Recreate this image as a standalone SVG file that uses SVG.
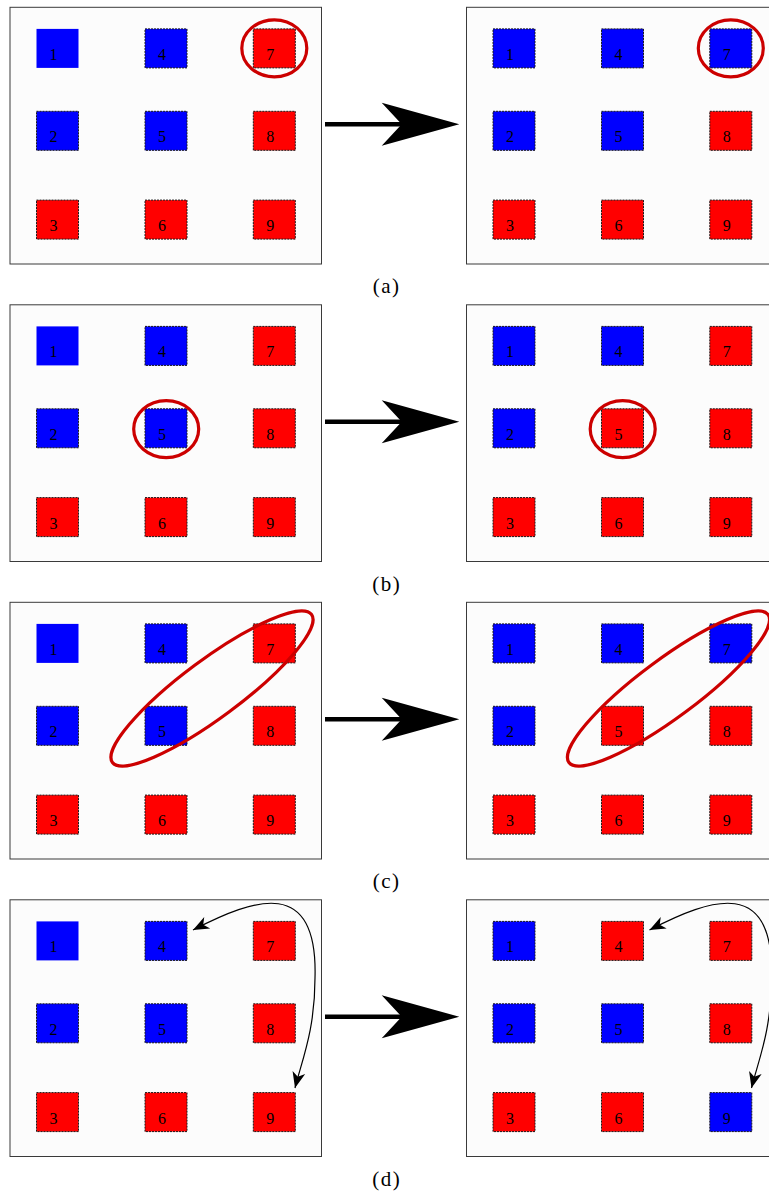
<svg xmlns="http://www.w3.org/2000/svg" xmlns:xlink="http://www.w3.org/1999/xlink" width="769" height="1196" viewBox="0 0 769 1196">
<style>
.frame{fill:#fcfcfc;stroke:#3a3a3a;stroke-width:1}
.b{fill:#0000ff}
.r{fill:#ff0000}
.sq{stroke:#1a1a1a;stroke-width:1;stroke-dasharray:2 1}
.lbl{font-family:"Liberation Serif","DejaVu Serif",serif;font-size:16px;text-anchor:middle;fill:#000}
.cap{font-family:"Liberation Serif","DejaVu Serif",serif;font-size:21px;text-anchor:middle;fill:#000;letter-spacing:1.5px}
.ring{fill:none;stroke:#cc0000;stroke-width:3.2}
.curve{fill:none;stroke:#000;stroke-width:1.2}
</style>
<defs>
<marker id="tip" markerUnits="userSpaceOnUse" viewBox="-17 -8 18 16" refX="0" refY="0" markerWidth="18" markerHeight="16" orient="auto-start-reverse">
<path d="M0,0 L-16,-6.5 L-11.5,0 L-16,6.5 Z" fill="#000"/>
</marker>
<g id="bigArrow">
<line x1="325" y1="0" x2="405" y2="0" stroke="#000" stroke-width="4.5"/>
<polygon points="459.3,0 381.7,-21.5 401.7,0 381.7,21.5" fill="#000"/>
</g>
</defs>
<rect width="769" height="1196" fill="#fff"/>

<!-- Panel (a) left -->
<g transform="translate(10,7.3)">
<rect class="frame" x="0" y="0" width="311.5" height="256.7"/>
<g id="aL1"><rect class="b" x="26.5" y="21.6" width="42" height="39"/><text class="lbl" x="43.5" y="52.6">1</text></g>
<g id="aL2"><rect class="b sq" x="26.5" y="104" width="42" height="39"/><text class="lbl" x="43.5" y="135">2</text></g>
<g id="aL3"><rect class="r sq" x="26.5" y="192.8" width="42" height="39"/><text class="lbl" x="43.5" y="223.8">3</text></g>
<g id="aL4"><rect class="b sq" x="135" y="21.6" width="42" height="39"/><text class="lbl" x="152" y="52.6">4</text></g>
<g id="aL5"><rect class="b sq" x="135" y="104" width="42" height="39"/><text class="lbl" x="152" y="135">5</text></g>
<g id="aL6"><rect class="r sq" x="135" y="192.8" width="42" height="39"/><text class="lbl" x="152" y="223.8">6</text></g>
<g id="aL7"><rect class="r sq" x="243.3" y="21.6" width="42" height="39"/><text class="lbl" x="260.3" y="52.6">7</text></g>
<g id="aL8"><rect class="r sq" x="243.3" y="104" width="42" height="39"/><text class="lbl" x="260.3" y="135">8</text></g>
<g id="aL9"><rect class="r sq" x="243.3" y="192.8" width="42" height="39"/><text class="lbl" x="260.3" y="223.8">9</text></g>
<ellipse class="ring" cx="264.3" cy="41" rx="32.5" ry="28.5"/>
</g>
<!-- Panel (a) right -->
<g transform="translate(466.5,7.3)">
<rect class="frame" x="0" y="0" width="311.5" height="256.7"/>
<g id="aR1"><rect class="b sq" x="26.5" y="21.6" width="42" height="39"/><text class="lbl" x="43.5" y="52.6">1</text></g>
<g id="aR2"><rect class="b sq" x="26.5" y="104" width="42" height="39"/><text class="lbl" x="43.5" y="135">2</text></g>
<g id="aR3"><rect class="r sq" x="26.5" y="192.8" width="42" height="39"/><text class="lbl" x="43.5" y="223.8">3</text></g>
<g id="aR4"><rect class="b sq" x="135" y="21.6" width="42" height="39"/><text class="lbl" x="152" y="52.6">4</text></g>
<g id="aR5"><rect class="b sq" x="135" y="104" width="42" height="39"/><text class="lbl" x="152" y="135">5</text></g>
<g id="aR6"><rect class="r sq" x="135" y="192.8" width="42" height="39"/><text class="lbl" x="152" y="223.8">6</text></g>
<g id="aR7"><rect class="b sq" x="243.3" y="21.6" width="42" height="39"/><text class="lbl" x="260.3" y="52.6">7</text></g>
<g id="aR8"><rect class="r sq" x="243.3" y="104" width="42" height="39"/><text class="lbl" x="260.3" y="135">8</text></g>
<g id="aR9"><rect class="r sq" x="243.3" y="192.8" width="42" height="39"/><text class="lbl" x="260.3" y="223.8">9</text></g>
<ellipse class="ring" cx="264.3" cy="41" rx="32.5" ry="28.5"/>
</g>
<text class="cap" x="386.7" y="293">(a)</text>

<!-- Panel (b) left -->
<g transform="translate(10,304.8)">
<rect class="frame" x="0" y="0" width="311.5" height="256.7"/>
<g id="bL1"><rect class="b" x="26.5" y="21.6" width="42" height="39"/><text class="lbl" x="43.5" y="52.6">1</text></g>
<g id="bL2"><rect class="b sq" x="26.5" y="104" width="42" height="39"/><text class="lbl" x="43.5" y="135">2</text></g>
<g id="bL3"><rect class="r sq" x="26.5" y="192.8" width="42" height="39"/><text class="lbl" x="43.5" y="223.8">3</text></g>
<g id="bL4"><rect class="b sq" x="135" y="21.6" width="42" height="39"/><text class="lbl" x="152" y="52.6">4</text></g>
<g id="bL5"><rect class="b sq" x="135" y="104" width="42" height="39"/><text class="lbl" x="152" y="135">5</text></g>
<g id="bL6"><rect class="r sq" x="135" y="192.8" width="42" height="39"/><text class="lbl" x="152" y="223.8">6</text></g>
<g id="bL7"><rect class="r sq" x="243.3" y="21.6" width="42" height="39"/><text class="lbl" x="260.3" y="52.6">7</text></g>
<g id="bL8"><rect class="r sq" x="243.3" y="104" width="42" height="39"/><text class="lbl" x="260.3" y="135">8</text></g>
<g id="bL9"><rect class="r sq" x="243.3" y="192.8" width="42" height="39"/><text class="lbl" x="260.3" y="223.8">9</text></g>
<ellipse class="ring" cx="156.2" cy="124.3" rx="32.5" ry="28.5"/>
</g>
<!-- Panel (b) right -->
<g transform="translate(466.5,304.8)">
<rect class="frame" x="0" y="0" width="311.5" height="256.7"/>
<g id="bR1"><rect class="b sq" x="26.5" y="21.6" width="42" height="39"/><text class="lbl" x="43.5" y="52.6">1</text></g>
<g id="bR2"><rect class="b sq" x="26.5" y="104" width="42" height="39"/><text class="lbl" x="43.5" y="135">2</text></g>
<g id="bR3"><rect class="r sq" x="26.5" y="192.8" width="42" height="39"/><text class="lbl" x="43.5" y="223.8">3</text></g>
<g id="bR4"><rect class="b sq" x="135" y="21.6" width="42" height="39"/><text class="lbl" x="152" y="52.6">4</text></g>
<g id="bR5"><rect class="r sq" x="135" y="104" width="42" height="39"/><text class="lbl" x="152" y="135">5</text></g>
<g id="bR6"><rect class="r sq" x="135" y="192.8" width="42" height="39"/><text class="lbl" x="152" y="223.8">6</text></g>
<g id="bR7"><rect class="r sq" x="243.3" y="21.6" width="42" height="39"/><text class="lbl" x="260.3" y="52.6">7</text></g>
<g id="bR8"><rect class="r sq" x="243.3" y="104" width="42" height="39"/><text class="lbl" x="260.3" y="135">8</text></g>
<g id="bR9"><rect class="r sq" x="243.3" y="192.8" width="42" height="39"/><text class="lbl" x="260.3" y="223.8">9</text></g>
<ellipse class="ring" cx="156.2" cy="124.3" rx="32.5" ry="28.5"/>
</g>
<text class="cap" x="386.7" y="590.5">(b)</text>

<!-- Panel (c) left -->
<g transform="translate(10,602.3)">
<rect class="frame" x="0" y="0" width="311.5" height="256.7"/>
<g id="cL1"><rect class="b" x="26.5" y="21.6" width="42" height="39"/><text class="lbl" x="43.5" y="52.6">1</text></g>
<g id="cL2"><rect class="b sq" x="26.5" y="104" width="42" height="39"/><text class="lbl" x="43.5" y="135">2</text></g>
<g id="cL3"><rect class="r sq" x="26.5" y="192.8" width="42" height="39"/><text class="lbl" x="43.5" y="223.8">3</text></g>
<g id="cL4"><rect class="b sq" x="135" y="21.6" width="42" height="39"/><text class="lbl" x="152" y="52.6">4</text></g>
<g id="cL5"><rect class="b sq" x="135" y="104" width="42" height="39"/><text class="lbl" x="152" y="135">5</text></g>
<g id="cL6"><rect class="r sq" x="135" y="192.8" width="42" height="39"/><text class="lbl" x="152" y="223.8">6</text></g>
<g id="cL7"><rect class="r sq" x="243.3" y="21.6" width="42" height="39"/><text class="lbl" x="260.3" y="52.6">7</text></g>
<g id="cL8"><rect class="r sq" x="243.3" y="104" width="42" height="39"/><text class="lbl" x="260.3" y="135">8</text></g>
<g id="cL9"><rect class="r sq" x="243.3" y="192.8" width="42" height="39"/><text class="lbl" x="260.3" y="223.8">9</text></g>
<ellipse class="ring" cx="0" cy="0" rx="124" ry="29" transform="translate(202,86.2) rotate(-36.6)"/>
</g>
<!-- Panel (c) right -->
<g transform="translate(466.5,602.3)">
<rect class="frame" x="0" y="0" width="311.5" height="256.7"/>
<g id="cR1"><rect class="b sq" x="26.5" y="21.6" width="42" height="39"/><text class="lbl" x="43.5" y="52.6">1</text></g>
<g id="cR2"><rect class="b sq" x="26.5" y="104" width="42" height="39"/><text class="lbl" x="43.5" y="135">2</text></g>
<g id="cR3"><rect class="r sq" x="26.5" y="192.8" width="42" height="39"/><text class="lbl" x="43.5" y="223.8">3</text></g>
<g id="cR4"><rect class="b sq" x="135" y="21.6" width="42" height="39"/><text class="lbl" x="152" y="52.6">4</text></g>
<g id="cR5"><rect class="r sq" x="135" y="104" width="42" height="39"/><text class="lbl" x="152" y="135">5</text></g>
<g id="cR6"><rect class="r sq" x="135" y="192.8" width="42" height="39"/><text class="lbl" x="152" y="223.8">6</text></g>
<g id="cR7"><rect class="b sq" x="243.3" y="21.6" width="42" height="39"/><text class="lbl" x="260.3" y="52.6">7</text></g>
<g id="cR8"><rect class="r sq" x="243.3" y="104" width="42" height="39"/><text class="lbl" x="260.3" y="135">8</text></g>
<g id="cR9"><rect class="r sq" x="243.3" y="192.8" width="42" height="39"/><text class="lbl" x="260.3" y="223.8">9</text></g>
<ellipse class="ring" cx="0" cy="0" rx="124" ry="29" transform="translate(202,86.2) rotate(-36.6)"/>
</g>
<text class="cap" x="386.7" y="888">(c)</text>

<!-- Panel (d) left -->
<g transform="translate(10,899.8)">
<rect class="frame" x="0" y="0" width="311.5" height="256.7"/>
<g id="dL1"><rect class="b" x="26.5" y="21.6" width="42" height="39"/><text class="lbl" x="43.5" y="52.6">1</text></g>
<g id="dL2"><rect class="b sq" x="26.5" y="104" width="42" height="39"/><text class="lbl" x="43.5" y="135">2</text></g>
<g id="dL3"><rect class="r sq" x="26.5" y="192.8" width="42" height="39"/><text class="lbl" x="43.5" y="223.8">3</text></g>
<g id="dL4"><rect class="b sq" x="135" y="21.6" width="42" height="39"/><text class="lbl" x="152" y="52.6">4</text></g>
<g id="dL5"><rect class="b sq" x="135" y="104" width="42" height="39"/><text class="lbl" x="152" y="135">5</text></g>
<g id="dL6"><rect class="r sq" x="135" y="192.8" width="42" height="39"/><text class="lbl" x="152" y="223.8">6</text></g>
<g id="dL7"><rect class="r sq" x="243.3" y="21.6" width="42" height="39"/><text class="lbl" x="260.3" y="52.6">7</text></g>
<g id="dL8"><rect class="r sq" x="243.3" y="104" width="42" height="39"/><text class="lbl" x="260.3" y="135">8</text></g>
<g id="dL9"><rect class="r sq" x="243.3" y="192.8" width="42" height="39"/><text class="lbl" x="260.3" y="223.8">9</text></g>
</g>
<!-- Panel (d) right -->
<g transform="translate(466.5,899.8)">
<rect class="frame" x="0" y="0" width="311.5" height="256.7"/>
<g id="dR1"><rect class="b sq" x="26.5" y="21.6" width="42" height="39"/><text class="lbl" x="43.5" y="52.6">1</text></g>
<g id="dR2"><rect class="b sq" x="26.5" y="104" width="42" height="39"/><text class="lbl" x="43.5" y="135">2</text></g>
<g id="dR3"><rect class="r sq" x="26.5" y="192.8" width="42" height="39"/><text class="lbl" x="43.5" y="223.8">3</text></g>
<g id="dR4"><rect class="r sq" x="135" y="21.6" width="42" height="39"/><text class="lbl" x="152" y="52.6">4</text></g>
<g id="dR5"><rect class="b sq" x="135" y="104" width="42" height="39"/><text class="lbl" x="152" y="135">5</text></g>
<g id="dR6"><rect class="r sq" x="135" y="192.8" width="42" height="39"/><text class="lbl" x="152" y="223.8">6</text></g>
<g id="dR7"><rect class="r sq" x="243.3" y="21.6" width="42" height="39"/><text class="lbl" x="260.3" y="52.6">7</text></g>
<g id="dR8"><rect class="r sq" x="243.3" y="104" width="42" height="39"/><text class="lbl" x="260.3" y="135">8</text></g>
<g id="dR9"><rect class="b sq" x="243.3" y="192.8" width="42" height="39"/><text class="lbl" x="260.3" y="223.8">9</text></g>
</g>
<text class="cap" x="386.7" y="1185.5">(d)</text>

<g id="connectors">
<use xlink:href="#bigArrow" transform="translate(0,124.3)"/>
<use xlink:href="#bigArrow" transform="translate(0,421.8)"/>
<use xlink:href="#bigArrow" transform="translate(0,719.3)"/>
<use xlink:href="#bigArrow" transform="translate(0,1016.8)"/>
<path class="curve" transform="translate(10,899.8)" d="M183,30.2 C245,-1.8 308,-23.8 305,78.2 C305,130.2 292,160.2 285,188.2" marker-start="url(#tip)" marker-end="url(#tip)"/>
<path class="curve" transform="translate(466.5,899.8)" d="M183,30.2 C245,-1.8 308,-23.8 305,78.2 C305,130.2 292,160.2 285,188.2" marker-start="url(#tip)" marker-end="url(#tip)"/>
</g>
</svg>
